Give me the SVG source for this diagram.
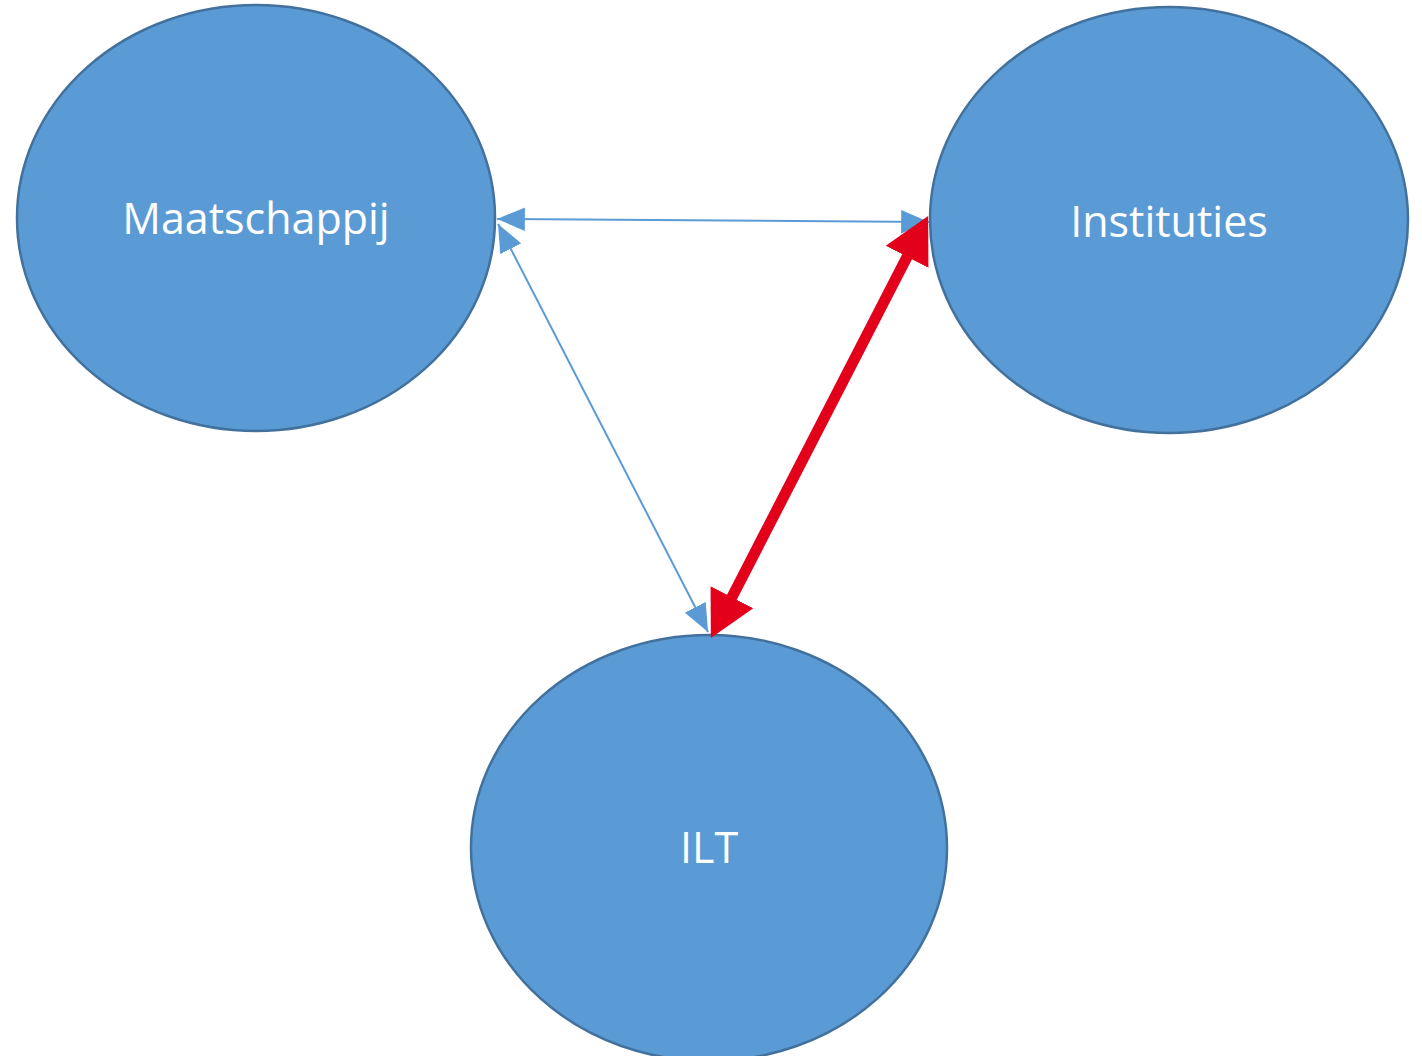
<svg xmlns="http://www.w3.org/2000/svg" width="1422" height="1056" viewBox="0 0 1422 1056">
<style>
.node{fill:#5B9BD5;stroke:#41719C;stroke-width:2.5}
.lbl{fill:#fff;font-family:"Open Sans","Liberation Sans",sans-serif;font-size:43px;text-anchor:middle}
.thin{stroke:#5B9BD5;stroke-width:2;fill:none}
.red{stroke:#E3001B;stroke-width:11;fill:none}
</style>
<defs>
<marker id="ab" markerUnits="userSpaceOnUse" markerWidth="30" markerHeight="24" refX="26" refY="11" orient="auto-start-reverse" viewBox="0 0 28 22"><path d="M0,0 L26,11 L0,22 Z" fill="#5B9BD5"/></marker>
<marker id="ar" markerUnits="userSpaceOnUse" markerWidth="48" markerHeight="50" refX="2" refY="24" orient="auto-start-reverse" viewBox="0 0 48 48"><path d="M0,0 L46,24 L0,48 Z" fill="#E3001B"/></marker>
</defs>
<rect width="1422" height="1056" fill="#fff"/>
<g id="maatschappij"><ellipse class="node" cx="256" cy="218" rx="239" ry="213"/><text class="lbl" x="256" y="234">Maatschappij</text></g>
<g id="instituties"><ellipse class="node" cx="1169" cy="220" rx="239" ry="213"/><text class="lbl" x="1169" y="237">Instituties</text></g>
<g id="ilt"><ellipse class="node" cx="709" cy="848" rx="238" ry="213"/><text class="lbl" x="709" y="863">ILT</text></g>
<g id="connectors">
<line class="thin" x1="497" y1="219" x2="929" y2="222" marker-start="url(#ab)" marker-end="url(#ab)"/>
<line class="thin" x1="498" y1="224" x2="708" y2="632" marker-start="url(#ab)" marker-end="url(#ab)"/>
<line class="red" x1="731" y1="599" x2="908" y2="255" marker-start="url(#ar)" marker-end="url(#ar)"/>
</g>
</svg>
